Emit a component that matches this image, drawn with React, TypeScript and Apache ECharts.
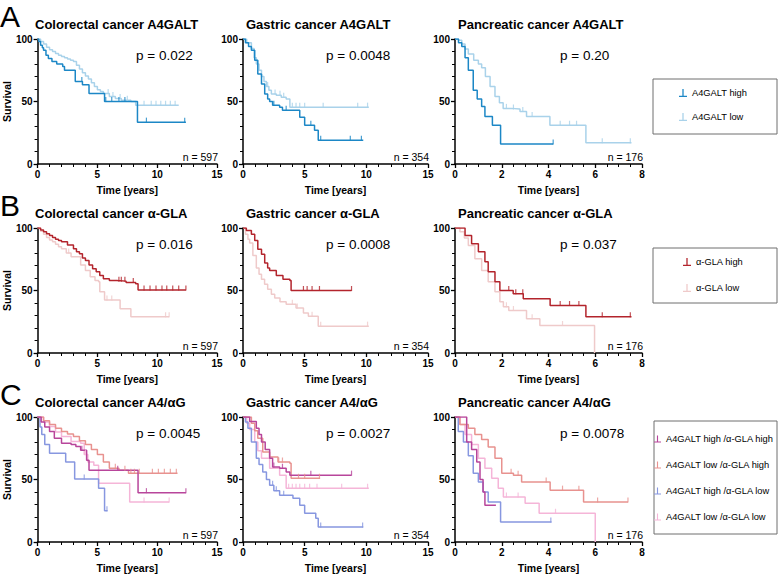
import React, { useEffect, useRef } from 'react';
import * as echarts from 'echarts';

const FONT = '"Liberation Sans", Arial, Helvetica, sans-serif';

type Pt = [number, number];

// ---- Kaplan–Meier curves: [time (years), survival (%)] ----

// Colorectal, A4GALT
const crcA4High: Pt[] = [[0, 100], [0.1, 98], [0.25, 95], [0.4, 93], [0.5, 91], [0.7, 87], [0.9, 84.5], [1.2, 82], [1.6, 80], [2.1, 78], [2.25, 75], [3.15, 66], [3.75, 63.5], [4.3, 56.5], [5.6, 50], [8.35, 33.5], [12.4, 33.5]];
const crcA4HighCensor = [3.7, 5.7, 6.2, 6.8, 7.3, 9.1, 12.3];
const crcA4Low: Pt[] = [[0, 100], [0.25, 98], [0.5, 96], [0.75, 93.5], [1, 91.5], [1.25, 90], [1.5, 88.5], [1.75, 87], [2, 86], [2.25, 85], [2.5, 84], [2.75, 83], [3, 82], [3.25, 79], [3.5, 76], [3.75, 73], [4, 70.5], [4.25, 68], [4.5, 65], [4.75, 62], [5, 59.5], [5.25, 58], [5.5, 56.5], [6, 54], [6.5, 52.5], [7, 51], [7.8, 50], [8.2, 47], [11.8, 47]];
const crcA4LowCensor = [5.9, 6.3, 6.9, 7.5, 8.9, 9.5, 9.9, 10.3, 10.7, 11.1, 11.5];

// Gastric, A4GALT
const gcA4High: Pt[] = [[0, 100], [0.2, 97], [0.45, 94], [0.68, 91], [0.95, 83], [1.2, 72], [1.5, 64], [1.76, 56], [2.0, 52], [2.16, 50], [2.4, 47], [2.97, 45.5], [3.2, 43], [4.6, 37.5], [5.0, 31], [5.8, 27], [6.1, 19], [9.75, 19]];
const gcA4HighCensor = [2.5, 3.5, 5.5, 6.3, 8.7, 9.6];
const gcA4Low: Pt[] = [[0, 100], [0.3, 97], [0.68, 92.5], [0.9, 85], [1.08, 80], [1.3, 75], [1.5, 70], [1.7, 66], [1.9, 62], [2.1, 59], [2.3, 56], [2.7, 55], [3.1, 53.5], [3.5, 52], [3.8, 45.5], [10.2, 45.5]];
const gcA4LowCensor = [2.0, 2.6, 3.0, 3.3, 4.0, 4.3, 4.6, 5.0, 6.5, 9.3, 10.1];

// Pancreatic, A4GALT
const pcA4High: Pt[] = [[0, 100], [0.15, 97], [0.29, 94], [0.43, 85], [0.57, 75], [0.78, 59], [0.95, 52], [1.14, 46], [1.28, 38], [1.6, 31], [1.95, 16], [4.2, 16]];
const pcA4HighCensor = [4.2];
const pcA4Low: Pt[] = [[0, 100], [0.15, 99], [0.29, 96], [0.43, 92], [0.57, 88], [0.8, 83], [1.0, 80], [1.14, 77], [1.3, 70], [1.5, 62], [1.71, 54], [1.9, 49], [2.06, 44.5], [2.4, 44], [2.78, 42], [3.06, 38], [4.06, 31], [5.6, 17], [7.55, 17]];
const pcA4LowCensor = [2.2, 2.5, 2.9, 3.3, 4.5, 4.9, 5.2, 6.3, 7.5];

// Colorectal, α-GLA
const crcGlaHigh: Pt[] = [[0, 100], [0.25, 98.5], [0.5, 97], [0.75, 95.5], [1, 94], [1.25, 92.5], [1.5, 91], [1.75, 90], [2, 89], [2.5, 86.5], [3, 83.5], [3.25, 81], [3.5, 79.5], [3.75, 76], [4, 74], [4.3, 70.5], [4.6, 67.5], [4.9, 65], [5.2, 62], [5.5, 59.5], [6, 58], [6.6, 57.5], [7.4, 56.5], [8.2, 55.5], [8.4, 50.5], [12.4, 50.5]];
const crcGlaHighCensor = [6.8, 7.0, 7.3, 8.0, 8.9, 9.4, 9.9, 10.4, 10.8, 11.3, 11.8, 12.4];
const crcGlaLow: Pt[] = [[0, 100], [0.25, 97.5], [0.5, 95], [0.75, 92.5], [1, 90.5], [1.25, 89], [1.5, 87], [1.75, 85], [2, 83.5], [2.4, 80], [2.8, 77], [3.6, 70.5], [4, 66], [4.4, 61], [4.8, 58], [5.1, 57], [5.2, 49], [5.6, 42.5], [6.9, 35.5], [7.8, 29], [11.0, 29]];
const crcGlaLowCensor = [2.6, 5.8, 6.2, 10.7, 11.0];

// Gastric, α-GLA
const gcGlaHigh: Pt[] = [[0, 100], [0.27, 98], [0.68, 95], [0.95, 90], [1.2, 83], [1.5, 79], [1.76, 72], [2.0, 68], [2.16, 66], [2.7, 62], [3.24, 59], [3.8, 58], [3.9, 50], [8.8, 50]];
const gcGlaHighCensor = [4.9, 5.2, 5.6, 6.2, 8.8];
const gcGlaLow: Pt[] = [[0, 100], [0.2, 95], [0.4, 91], [0.54, 88], [0.8, 78], [1.08, 68], [1.3, 63], [1.5, 59], [1.75, 55], [2.0, 51], [2.3, 47], [2.57, 44], [3.0, 41], [3.5, 39], [4.3, 36], [4.9, 32], [5.3, 29.5], [6.1, 21.5], [10.2, 21.5]];
const gcGlaLowCensor = [4.0, 4.4, 5.6, 6.3, 10.1];

// Pancreatic, α-GLA
const pcGlaHigh: Pt[] = [[0, 100], [0.29, 100], [0.43, 94], [0.71, 87.5], [1.0, 81], [1.28, 73], [1.42, 65], [1.71, 57], [1.92, 50], [2.49, 47.5], [2.92, 43.5], [4.07, 38], [5.6, 29], [7.55, 29]];
const pcGlaHighCensor = [2.3, 2.6, 2.9, 4.5, 4.9, 5.3, 6.3, 7.5];
const pcGlaLow: Pt[] = [[0, 100], [0.21, 97], [0.4, 92], [0.57, 86], [0.85, 75.5], [1.14, 66], [1.42, 57], [1.71, 49], [1.92, 41], [2.07, 37], [2.3, 34], [3.06, 27.5], [3.63, 22], [5.97, 0]];
const pcGlaLowCensor = [2.2, 2.5, 3.3, 4.6];

// Colorectal, A4GALT × α-GLA
const crcHH: Pt[] = [[0, 100], [0.3, 96], [0.6, 92], [1, 88.5], [1.4, 83], [2, 79], [2.8, 78], [3.2, 76.5], [3.6, 73.5], [4.1, 65.5], [4.3, 57.5], [8.4, 39.5], [12.4, 39.5]];
const crcHHCensor = [3.7, 6.7, 9.1, 12.4];
const crcLH: Pt[] = [[0, 100], [0.5, 97], [1, 94], [1.5, 91], [2, 88.5], [2.5, 86.5], [3, 84.5], [3.5, 81], [4, 78], [4.5, 74], [5, 70], [5.5, 64], [6, 59], [6.8, 57.5], [7.6, 55], [11.7, 55]];
const crcLHCensor = [6.5, 7.3, 7.8, 8.1, 8.5, 9.6, 10.1, 10.6, 11.1, 11.6];
const crcHL: Pt[] = [[0, 100], [0.2, 92], [0.35, 86], [0.6, 78], [1.0, 71], [2.35, 64], [3.1, 50.5], [5.1, 43], [5.6, 25], [5.85, 25]];
const crcHLCensor = [3.9, 5.8];
const crcLL: Pt[] = [[0, 100], [0.5, 96], [1, 92.5], [1.5, 88], [2, 84.5], [2.8, 80.5], [3.6, 79], [3.9, 70], [4.2, 64], [4.7, 61.5], [5.1, 47], [7.7, 32], [11.0, 32]];
const crcLLCensor = [4.0, 8.9, 11.0];

// Gastric, A4GALT × α-GLA
const gcHH: Pt[] = [[0, 100], [0.54, 96.5], [1.08, 91], [1.3, 86], [1.5, 80], [1.8, 74], [2.16, 67], [2.4, 60], [2.97, 59], [3.5, 56], [3.8, 53.5], [8.8, 53.5]];
const gcHHCensor = [2.5, 3.2, 5.5, 8.8];
const gcLH: Pt[] = [[0, 100], [0.68, 95], [0.95, 89], [1.2, 83], [1.6, 72], [2.16, 68], [2.84, 64], [3.8, 63], [3.9, 51], [6.25, 51]];
const gcLHCensor = [2.9, 3.2, 4.5, 5.0, 6.2];
const gcHL: Pt[] = [[0, 100], [0.2, 96], [0.4, 91], [0.68, 80], [1.08, 67], [1.3, 62], [1.6, 56], [1.9, 50], [2.16, 45.5], [2.5, 41], [2.97, 37.5], [4.05, 35], [4.6, 29.5], [5.0, 23], [5.9, 19], [6.1, 12], [9.75, 12]];
const gcHLCensor = [2.4, 2.7, 3.3, 6.3, 9.7];
const gcLL: Pt[] = [[0, 100], [0.3, 95], [0.54, 90], [0.95, 80], [1.2, 73], [1.5, 67], [2.16, 59], [2.97, 53.5], [3.5, 43], [10.2, 43]];
const gcLLCensor = [3.7, 4.0, 4.3, 4.6, 5.0, 5.4, 6.0, 8.0, 10.1];

// Pancreatic, A4GALT × α-GLA
const pcHH: Pt[] = [[0, 100], [0.43, 100], [0.5, 80], [0.71, 74], [0.93, 64], [1.07, 50], [1.2, 40], [1.28, 29.5], [1.75, 29.5]];
const pcHHCensor: number[] = [];
const pcLH: Pt[] = [[0, 100], [0.21, 94], [0.57, 91], [0.85, 86], [1.14, 82], [1.42, 76], [1.71, 67], [2.0, 55], [2.5, 53.5], [2.85, 48], [4.07, 41.5], [5.5, 32], [7.4, 32]];
const pcLHCensor = [2.4, 2.7, 3.9, 4.6, 5.3, 6.1, 7.4];
const pcHL: Pt[] = [[0, 100], [0.14, 88.5], [0.36, 80], [0.57, 69], [0.78, 55], [1.0, 48], [1.2, 40], [1.42, 32], [1.95, 16], [4.13, 16]];
const pcHLCensor = [4.1];
const pcLL: Pt[] = [[0, 100], [0.21, 94], [0.43, 86], [0.71, 78], [1.0, 67], [1.28, 59], [1.57, 51], [1.85, 43], [2.07, 36], [3.0, 31], [3.6, 23], [6.0, 0]];
const pcLLCensor = [2.2, 2.7, 4.3];

// ---- labels ----
const rowLetters = ['A', 'B', 'C'];
const cancers = ['Colorectal cancer', 'Gastric cancer', 'Pancreatic cancer'];
const markers = ['A4GALT', 'α-GLA', 'A4/αG'];
const pValues = [
  ['p = 0.022', 'p = 0.0048', 'p = 0.20'],
  ['p = 0.016', 'p = 0.0008', 'p = 0.037'],
  ['p = 0.0045', 'p = 0.0027', 'p = 0.0078'],
];
const cohortSizes = ['n = 597', 'n = 354', 'n = 176'];
const xMaxes = [15, 15, 8];
const xIntervals = [5, 5, 2];

const A4_HIGH = 'A4GALT high';
const A4_LOW = 'A4GALT low';
const GLA_HIGH = 'α-GLA high';
const GLA_LOW = 'α-GLA low';
const HH = 'A4GALT high /α-GLA high';
const LH = 'A4GALT low /α-GLA high';
const HL = 'A4GALT high /α-GLA low';
const LL = 'A4GALT low /α-GLA low';

const COLORS: Record<string, string> = {
  [A4_HIGH]: '#1c87c6',
  [A4_LOW]: '#a9d2ea',
  [GLA_HIGH]: '#b3242c',
  [GLA_LOW]: '#efcaca',
  [HH]: '#b8459b',
  [LH]: '#e8928f',
  [HL]: '#8797e0',
  [LL]: '#f5b5d8',
};

type Curve = { name: string; data: Pt[]; censor: number[] };

// Curves per panel, row by row (light curves first so the dark ones sit on top)
const panelCurves: Curve[][] = [
  [{ name: A4_LOW, data: crcA4Low, censor: crcA4LowCensor }, { name: A4_HIGH, data: crcA4High, censor: crcA4HighCensor }],
  [{ name: A4_LOW, data: gcA4Low, censor: gcA4LowCensor }, { name: A4_HIGH, data: gcA4High, censor: gcA4HighCensor }],
  [{ name: A4_LOW, data: pcA4Low, censor: pcA4LowCensor }, { name: A4_HIGH, data: pcA4High, censor: pcA4HighCensor }],
  [{ name: GLA_LOW, data: crcGlaLow, censor: crcGlaLowCensor }, { name: GLA_HIGH, data: crcGlaHigh, censor: crcGlaHighCensor }],
  [{ name: GLA_LOW, data: gcGlaLow, censor: gcGlaLowCensor }, { name: GLA_HIGH, data: gcGlaHigh, censor: gcGlaHighCensor }],
  [{ name: GLA_LOW, data: pcGlaLow, censor: pcGlaLowCensor }, { name: GLA_HIGH, data: pcGlaHigh, censor: pcGlaHighCensor }],
  [
    { name: LL, data: crcLL, censor: crcLLCensor },
    { name: HL, data: crcHL, censor: crcHLCensor },
    { name: LH, data: crcLH, censor: crcLHCensor },
    { name: HH, data: crcHH, censor: crcHHCensor },
  ],
  [
    { name: LL, data: gcLL, censor: gcLLCensor },
    { name: HL, data: gcHL, censor: gcHLCensor },
    { name: LH, data: gcLH, censor: gcLHCensor },
    { name: HH, data: gcHH, censor: gcHHCensor },
  ],
  [
    { name: LL, data: pcLL, censor: pcLLCensor },
    { name: HL, data: pcHL, censor: pcHLCensor },
    { name: LH, data: pcLH, censor: pcLHCensor },
    { name: HH, data: pcHH, censor: pcHHCensor },
  ],
];

const legendGroups = [[A4_HIGH, A4_LOW], [GLA_HIGH, GLA_LOW], [HH, LH, HL, LL]];

// ---- layout (px) ----
const GRID_LEFT = [32, 243, 455];
const GRID_WIDTH = [185, 185, 187];
const GRID_TOP = [39, 228, 417];
const GRID_H = 125;

const CENSOR_ICON = 'path://M0,8.5L10,8.5L10,10L0,10Z M4.2,0L5.8,0L5.8,8.5L4.2,8.5Z';

function survivalAt(curve: Pt[], t: number): number {
  let s = curve[0][1];
  for (const [x, y] of curve) {
    if (x <= t) s = y;
    else break;
  }
  return s;
}

function buildOption() {
  const grid: any[] = [];
  const xAxis: any[] = [];
  const yAxis: any[] = [];
  const series: any[] = [];
  const graphic: any[] = [];

  const axisLine = { show: true, onZero: false, lineStyle: { color: '#000', width: 1.5 } };
  const axisTick = { show: true, length: 4, lineStyle: { color: '#000', width: 1.3 } };
  const labelStyle = { color: '#000', fontWeight: 'bold', fontSize: 10, fontFamily: FONT };
  const nameStyle = { color: '#000', fontWeight: 'bold', fontSize: 10.5, fontFamily: FONT };

  for (let r = 0; r < 3; r++) {
    graphic.push({
      type: 'text',
      x: 0,
      y: GRID_TOP[r] - 23,
      style: {
        text: rowLetters[r],
        fontSize: 30,
        fontFamily: FONT,
        fill: '#000',
        verticalAlign: 'middle',
        align: 'left',
      },
    });
    for (let c = 0; c < 3; c++) {
      const i = r * 3 + c;
      grid.push({ left: GRID_LEFT[c], top: GRID_TOP[r], width: GRID_WIDTH[c], height: GRID_H, containLabel: false });
      xAxis.push({
        type: 'value',
        gridIndex: i,
        min: 0,
        max: xMaxes[c],
        interval: xIntervals[c],
        axisLine,
        axisTick,
        minorTick: { show: true, splitNumber: c === 2 ? 4 : 5, length: 3, lineStyle: { color: '#000', width: 1 } },
        splitLine: { show: false },
        axisLabel: { ...labelStyle, margin: 5 },
        name: 'Time [years]',
        nameLocation: 'middle',
        nameGap: 20,
        nameTextStyle: nameStyle,
      });
      yAxis.push({
        type: 'value',
        gridIndex: i,
        min: 0,
        max: 100,
        interval: 50,
        axisLine,
        axisTick,
        minorTick: { show: true, splitNumber: 5, length: 3, lineStyle: { color: '#000', width: 1 } },
        splitLine: { show: false },
        axisLabel: { ...labelStyle, margin: 5 },
        name: c === 0 ? 'Survival' : '',
        nameLocation: 'middle',
        nameGap: 18,
        nameTextStyle: nameStyle,
      });

      for (const curve of panelCurves[i]) {
        const color = COLORS[curve.name];
        series.push({
          type: 'line',
          name: curve.name,
          xAxisIndex: i,
          yAxisIndex: i,
          data: curve.data,
          step: 'end',
          symbol: 'none',
          lineStyle: { color, width: 1.5 },
          itemStyle: { color },
          z: 2,
        });
        series.push({
          type: 'scatter',
          name: curve.name,
          xAxisIndex: i,
          yAxisIndex: i,
          data: curve.censor.map((t) => [t, survivalAt(curve.data, t)]),
          symbol: 'rect',
          symbolSize: [1.2, 5],
          symbolOffset: [0, -2],
          itemStyle: { color },
          silent: true,
          z: 3,
        });
      }

      const left = GRID_LEFT[c];
      const right = left + GRID_WIDTH[c];
      const top = GRID_TOP[r];
      graphic.push({
        type: 'text',
        x: left + 3,
        y: top - 15,
        style: {
          text: `${cancers[c]} ${markers[r]}`,
          fontSize: 13,
          fontWeight: 'bold',
          fontFamily: FONT,
          fill: '#000',
          verticalAlign: 'middle',
          align: 'left',
        },
      });
      graphic.push({
        type: 'text',
        x: [136, 326, 560][c],
        y: top + 16,
        style: { text: pValues[r][c], fontSize: 13.5, fontFamily: FONT, fill: '#000', verticalAlign: 'middle', align: 'left' },
      });
      graphic.push({
        type: 'text',
        x: right + 1,
        y: top + GRID_H - 7,
        style: { text: cohortSizes[c], fontSize: 10.5, fontFamily: FONT, fill: '#000', verticalAlign: 'middle', align: 'right' },
      });
    }
  }

  // legend frames
  const boxes = [
    { x: 653, y: 79, w: 124, h: 55 },
    { x: 653, y: 248, w: 124, h: 55 },
    { x: 654, y: 421, w: 123, h: 113 },
  ];
  for (const b of boxes) {
    graphic.push({
      type: 'rect',
      shape: { x: b.x, y: b.y, width: b.w, height: b.h },
      style: { fill: 'none', stroke: '#6e6e6e', lineWidth: 1 },
    });
  }

  const legendPos = [
    { left: 679, top: 87, gap: 12 },
    { left: 683, top: 256, gap: 14 },
    { left: 654, top: 433, gap: 14 },
  ];
  const legend = legendGroups.map((names, k) => ({
    data: names,
    orient: 'vertical',
    left: legendPos[k].left,
    top: legendPos[k].top,
    padding: 0,
    itemGap: legendPos[k].gap,
    itemWidth: k === 2 ? 7 : 8,
    itemHeight: 8,
    icon: CENSOR_ICON,
    selectedMode: false,
    textStyle: { fontSize: 9.3, fontFamily: FONT, color: '#000', lineHeight: 12 },
  }));

  return {
    animation: false,
    backgroundColor: '#fff',
    grid,
    xAxis,
    yAxis,
    series,
    legend,
    graphic,
  };
}

export default function App() {
  const ref = useRef<HTMLDivElement>(null);
  useEffect(() => {
    if (!ref.current) return;
    const chart = echarts.init(ref.current, undefined, { renderer: 'svg' });
    chart.setOption(buildOption() as any);
    return () => chart.dispose();
  }, []);
  return <div ref={ref} style={{ position: 'fixed', left: 0, top: 0, width: 778, height: 575, background: '#fff' }} />;
}
